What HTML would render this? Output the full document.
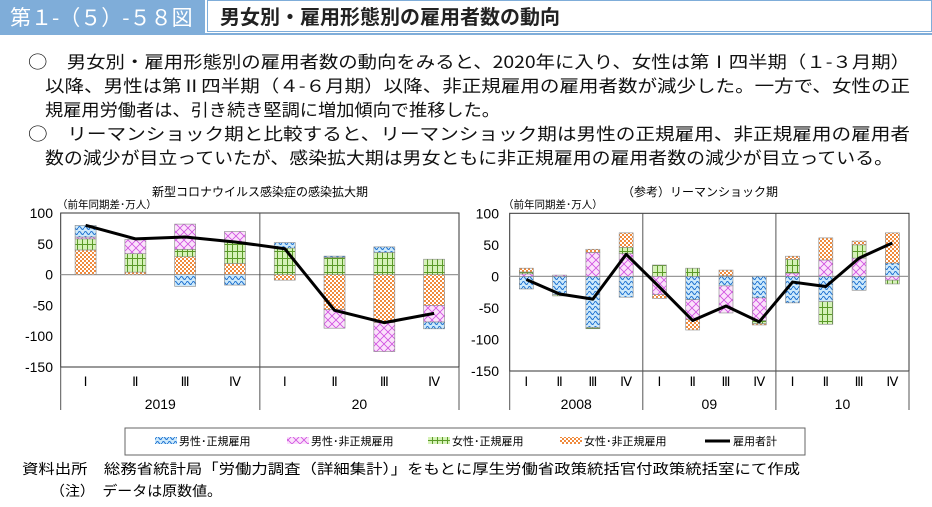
<!DOCTYPE html>
<html><head><meta charset="utf-8"><style>
body{margin:0;width:932px;height:507px;background:#fff;overflow:hidden;font-family:"Liberation Sans","Noto Sans CJK JP",sans-serif;}
</style></head><body>
<div style="position:absolute;left:0;top:0;width:205px;height:34px;background:#7fadd9;color:#fff;font-size:21px;line-height:34px;padding-left:10px;box-sizing:border-box;font-family:'Noto Sans CJK JP',sans-serif;">第１-（５）-５８図</div>
<div style="position:absolute;left:207px;top:0;width:725px;height:32px;border:1px solid #7fadd9;box-sizing:border-box;font-size:20px;line-height:30px;padding-left:12px;font-weight:bold;color:#222;font-family:'Noto Sans CJK JP',sans-serif;">男女別・雇用形態別の雇用者数の動向</div>
<div style="position:absolute;left:0;top:33px;width:932px;height:2px;background:#7fadd9;"></div>

<svg id="chart" width="932" height="507" style="position:absolute;left:0;top:0;" font-family="Liberation Sans, Noto Sans CJK JP, sans-serif">
<defs>
<pattern id="pmr" width="6" height="5" patternUnits="userSpaceOnUse"><rect width="6" height="5" fill="#cde9fb"/><path d="M0 3 Q1.5 0 3 3 T6 3" stroke="#1a6fd0" fill="none" stroke-width="1"/></pattern>
<pattern id="pmn" width="8" height="8" patternUnits="userSpaceOnUse"><rect width="8" height="8" fill="#fbe2fb"/><path d="M0 0L8 8M8 0L0 8" stroke="#d050e0" stroke-width="0.8"/></pattern>
<pattern id="pfr" width="5" height="7" patternUnits="userSpaceOnUse"><rect width="5" height="7" fill="#d6f2b8"/><path d="M2.5 0V7M0 6.5H5" stroke="#5a9a28" stroke-width="1"/></pattern>
<pattern id="pfn" width="4" height="4" patternUnits="userSpaceOnUse"><rect width="4" height="4" fill="#fff"/><rect width="2" height="2" fill="#f08a3c"/><rect x="2" y="2" width="2" height="2" fill="#f08a3c"/></pattern>
</defs>
<g font-size="17" fill="#111" font-family="Noto Sans CJK JP, sans-serif">
<text x="28" y="68" textLength="882" lengthAdjust="spacingAndGlyphs">○　男女別・雇用形態別の雇用者数の動向をみると、2020年に入り、女性は第Ⅰ四半期（１-３月期）</text>
<text x="45" y="92" textLength="865" lengthAdjust="spacingAndGlyphs">以降、男性は第Ⅱ四半期（４-６月期）以降、非正規雇用の雇用者数が減少した。一方で、女性の正</text>
<text x="45" y="116" textLength="455" lengthAdjust="spacingAndGlyphs">規雇用労働者は、引き続き堅調に増加傾向で推移した。</text>
<text x="28" y="140" textLength="882" lengthAdjust="spacingAndGlyphs">○　リーマンショック期と比較すると、リーマンショック期は男性の正規雇用、非正規雇用の雇用者</text>
<text x="45" y="164" textLength="848" lengthAdjust="spacingAndGlyphs">数の減少が目立っていたが、感染拡大期は男女ともに非正規雇用の雇用者数の減少が目立っている。</text>
</g>
<g id="left"></g><g id="right"></g>
<g>
<rect x="125" y="428" width="680" height="27" fill="#fff" stroke="#666"/>
<rect x="155" y="437" width="22" height="7" fill="url(#pmr)"/><text x="179" y="445" font-size="11">男性･正規雇用</text>
<rect x="287" y="437" width="22" height="7" fill="url(#pmn)"/><text x="311" y="445" font-size="11">男性･非正規雇用</text>
<rect x="428" y="437" width="22" height="7" fill="url(#pfr)"/><text x="452" y="445" font-size="11">女性･正規雇用</text>
<rect x="560" y="437" width="22" height="7" fill="url(#pfn)"/><text x="584" y="445" font-size="11">女性･非正規雇用</text>
<line x1="705" y1="441" x2="730" y2="441" stroke="#000" stroke-width="3"/><text x="733" y="445" font-size="11">雇用者計</text>
</g>
<text x="22" y="474" font-size="14" textLength="778" lengthAdjust="spacingAndGlyphs" font-family="Noto Sans CJK JP, sans-serif">資料出所　総務省統計局「労働力調査（詳細集計）」をもとに厚生労働省政策統括官付政策統括室にて作成</text>
<text x="50" y="496" font-size="14" textLength="172" lengthAdjust="spacingAndGlyphs" font-family="Noto Sans CJK JP, sans-serif">（注）　データは原数値。</text>
</svg>
<script>
const seriesKeys=['mr','mn','fr','fn'];
const tickLabels=['100','50','0','-50','-100','-150'];
const tickValues=[100,50,0,-50,-100,-150];
const quarterLabels=['Ⅰ','Ⅱ','Ⅲ','Ⅳ'];
// Left chart (COVID)
const leftYears=['2019','20'];
const leftMR=[19,0,-19,-17,9,2,9,-11];
const leftMN=[3,23,41,17,0,-30,-47,-27];
const leftFR=[18,30,12,35,43,28,36,25];
const leftFN=[40,4,29,18,-9,-57,-78,-50];
const leftTotal=[80,58,61,53,42,-58,-78,-63];
// Right chart (Lehman)
const rightYears=['2008','09','10'];
const rightMR=[-20,-29,-81,-33,0,-37,-15,-34,-42,-40,-22,21];
const rightMN=[4,2,38,36,-29,-31,-43,-36,5,26,29,-6];
const rightFR=[3,-2,-2,10,18,13,1,-5,22,-36,21,-6];
const rightFN=[6,0,5,23,-6,-17,9,-2,5,35,6,48];
const rightTotal=[-5,-28,-36,35,-17,-70,-47,-72,-9,-16,29,53];

const NS='http://www.w3.org/2000/svg';
function mk(parent,tag,attrs){const e=document.createElementNS(NS,tag);for(const k in attrs)e.setAttribute(k,attrs[k]);parent.appendChild(e);return e;}
function draw(g,cfg){
  const {x0,x1,yTop,yBot,years,data,total,order,barW,title,titleX,unitX,labelX}=cfg;
  const n=total.length;
  const y=v=>yTop+(100-v)/250*(yBot-yTop);
  const cw=(x1-x0)/n;
  const cx=i=>x0+cw*(i+0.5);
  let t=mk(g,'text',{x:titleX,y:196,'font-size':12,'text-anchor':'middle'});t.textContent=title;
  
  
  t=mk(g,'text',{x:unitX,y:208,'font-size':10.5});t.textContent='（前年同期差･万人）';
  
  
  mk(g,'rect',{x:x0,y:yTop,width:x1-x0,height:yBot-yTop,fill:'#fff',stroke:'#333','stroke-width':1});
  mk(g,'line',{x1:x0,x2:x1,y1:y(0),y2:y(0),stroke:'#999','stroke-width':1.2});
  tickValues.forEach((v,i)=>{const tt=mk(g,'text',{x:labelX,y:y(v)+5,'font-size':14,'text-anchor':'end'});tt.textContent=tickLabels[i];
    
    });
  for(let k=0;k<=years.length;k++){const xx=x0+k*4*cw;mk(g,'line',{x1:xx,x2:xx,y1:(k==0||k==years.length)?yBot:yTop,y2:410,stroke:'#555','stroke-width':1});}
  years.forEach((yr,k)=>{const tt=mk(g,'text',{x:x0+(k*4+2)*cw,y:409,'font-size':14,'text-anchor':'middle'});tt.textContent=yr;
    
    });
  for(let i=0;i<n;i++){
    const tt=mk(g,'text',{x:cx(i),y:386,'font-size':13,'text-anchor':'middle','font-family':'Liberation Serif, serif'});tt.textContent=quarterLabels[i%4];
    
    
    let pos=0,neg=0;
    order.forEach(k=>{const v=data[k][i];if(!v)return;let a,b;
      if(v>0){a=pos;b=pos+v;pos=b;}else{a=neg;b=neg+v;neg=b;}
      const r=mk(g,'rect',{x:cx(i)-barW/2,y:Math.min(y(a),y(b)),width:barW,height:Math.abs(y(a)-y(b)),fill:'url(#p'+k+')',stroke:'#888','stroke-width':0.6});
      
      });
  }
  const p=mk(g,'polyline',{points:total.map((v,i)=>cx(i)+','+y(v)).join(' '),fill:'none',stroke:'#000','stroke-width':3,'stroke-linejoin':'round'});
  
  
}
draw(document.getElementById('left'),{x0:60.7,x1:459,yTop:213,yBot:367,years:leftYears,
  data:{mr:leftMR,mn:leftMN,fr:leftFR,fn:leftFN},total:leftTotal,order:['fn','fr','mn','mr'],barW:21,
  title:'新型コロナウイルス感染症の感染拡大期',titleX:260,unitX:57,labelX:53});
draw(document.getElementById('right'),{x0:509.7,x1:909,yTop:213.3,yBot:371,years:rightYears,
  data:{mr:rightMR,mn:rightMN,fr:rightFR,fn:rightFN},total:rightTotal,order:['mr','mn','fr','fn'],barW:14,
  title:'（参考）リーマンショック期',titleX:700,unitX:503,labelX:499});
</script>
</body></html>
